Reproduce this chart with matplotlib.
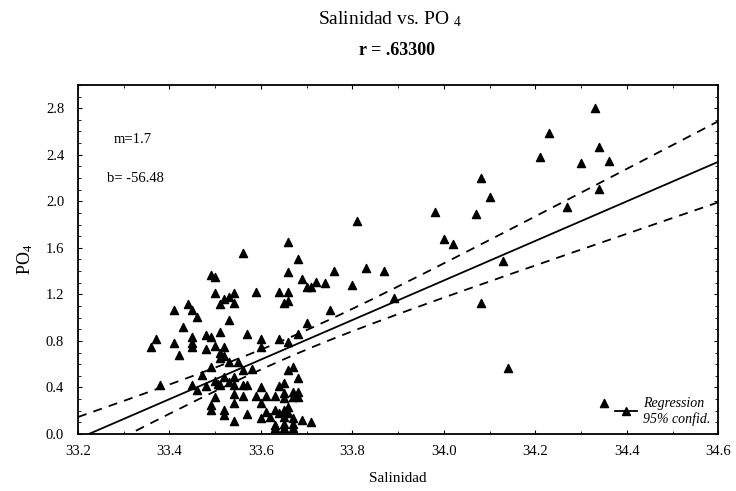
import numpy as np
import matplotlib
matplotlib.use('Agg')
import matplotlib.pyplot as plt
from matplotlib.lines import Line2D
from matplotlib.ticker import MultipleLocator, FormatStrFormatter

# data
salinidad = [
    33.56, 33.68, 33.66, 33.76, 33.69, 33.72, 33.74, 33.70, 33.71, 33.49,
    33.50, 33.50, 33.59, 33.64, 33.66, 33.65, 33.66, 33.54, 33.53, 33.52,
    33.54, 33.51, 33.41, 33.44, 33.45, 33.46, 33.53, 33.75, 33.70, 33.43,
    33.37, 33.36, 33.41, 33.42, 33.45, 33.45, 33.45, 33.48, 33.49, 33.51,
    33.48, 33.50, 33.52, 33.51, 33.52, 33.51, 33.57, 33.60, 33.60, 33.64,
    33.66, 33.68, 33.49, 33.53, 33.55, 33.56, 33.58, 33.47, 33.38, 33.45,
    33.46, 33.48, 33.50, 33.51, 33.52, 33.53, 33.54, 33.50, 33.505, 33.54,
    33.54, 33.56, 33.57, 33.56, 33.59, 33.60, 33.61, 33.63, 33.64, 33.65,
    33.66, 33.67, 33.68, 33.65, 33.65, 33.67, 33.68, 33.67, 33.68, 33.49,
    33.49, 33.52, 33.52, 33.54, 33.60, 33.61, 33.57, 33.54, 33.60, 33.62,
    33.63, 33.64, 33.65, 33.66, 33.66, 33.65, 33.67, 33.63, 33.65, 33.65,
    33.67, 33.67, 33.69, 33.71, 33.63,
    34.33, 34.23, 34.21, 34.30, 34.34, 34.36, 34.34, 34.27, 34.08, 34.10,
    34.07, 33.98, 34.00, 34.02, 33.81, 33.80, 33.83, 33.87, 33.89, 34.13,
    34.08, 34.14, 34.35, 33.66,
]
po4 = [
    1.56, 1.50, 1.39, 1.40, 1.33, 1.31, 1.30, 1.26, 1.26, 1.37,
    1.35, 1.21, 1.22, 1.22, 1.22, 1.13, 1.14, 1.21, 1.18, 1.16,
    1.13, 1.12, 1.07, 1.12, 1.07, 1.01, 0.98, 1.07, 0.95, 0.92,
    0.82, 0.75, 0.78, 0.68, 0.83, 0.78, 0.75, 0.85, 0.83, 0.88,
    0.73, 0.76, 0.75, 0.70, 0.67, 0.65, 0.86, 0.82, 0.75, 0.82,
    0.79, 0.86, 0.58, 0.62, 0.62, 0.55, 0.56, 0.51, 0.42, 0.42,
    0.38, 0.41, 0.46, 0.42, 0.49, 0.45, 0.49, 0.32, 0.43, 0.42,
    0.34, 0.42, 0.42, 0.33, 0.33, 0.40, 0.33, 0.33, 0.41, 0.44,
    0.55, 0.58, 0.48, 0.35, 0.31, 0.36, 0.36, 0.32, 0.32, 0.25,
    0.21, 0.21, 0.16, 0.27, 0.27, 0.19, 0.17, 0.11, 0.14, 0.15,
    0.21, 0.18, 0.21, 0.23, 0.18, 0.15, 0.14, 0.08, 0.09, 0.05,
    0.09, 0.05, 0.12, 0.10, 0.05,
    2.80, 2.59, 2.38, 2.33, 2.47, 2.35, 2.11, 1.95, 2.20, 2.04,
    1.89, 1.91, 1.68, 1.63, 1.83, 1.28, 1.43, 1.40, 1.17, 1.49,
    1.13, 0.57, 0.27, 1.65,
]

# regression as printed on the chart
m = 1.7
b = -56.48
r_label = 'r = .63300'
t95 = 1.98

x = np.array(salinidad)
y = np.array(po4)
n = len(x)

plt.rcParams['font.family'] = ['Liberation Serif', 'DejaVu Serif']
plt.rcParams['mathtext.fontset'] = 'custom'
plt.rcParams['mathtext.rm'] = 'Liberation Serif'
plt.rcParams['mathtext.it'] = 'Liberation Serif:italic'

fig = plt.figure(figsize=(7.36, 4.91), dpi=100)
ax = fig.add_axes([0.106, 0.116, 0.87, 0.711])

# 95% confidence band of the fitted line
xs = np.linspace(33.2, 34.6, 300)
fit = m * xs + b
resid = y - (m * x + b)
s = np.sqrt(np.sum(resid ** 2) / (n - 2))
sxx = np.sum((x - x.mean()) ** 2)
w = t95 * s * np.sqrt(1.0 / n + (xs - x.mean()) ** 2 / sxx)

ax.plot(xs, fit, color='black', lw=1.3)
ax.plot(xs, fit + w, color='black', lw=1.3, dashes=(5, 4))
ax.plot(xs, fit - w, color='black', lw=1.3, dashes=(5, 4))
ax.scatter(x, y, marker='^', s=34, color='black', zorder=3, clip_on=False)

ax.set_xlim(33.2, 34.6)
ax.set_ylim(0, 3.0)
ax.xaxis.set_major_locator(MultipleLocator(0.2))
ax.xaxis.set_minor_locator(MultipleLocator(0.1))
ax.yaxis.set_major_locator(MultipleLocator(0.4))
ax.yaxis.set_minor_locator(MultipleLocator(0.1))
ax.xaxis.set_major_formatter(FormatStrFormatter('%.1f'))
ax.yaxis.set_major_formatter(FormatStrFormatter('%.1f'))
ax.tick_params(which='both', direction='in', top=True, right=True, labelsize=10.5)
ax.tick_params(which='major', length=3)
ax.tick_params(which='minor', length=2)
ax.tick_params(axis='x', pad=8)
ax.tick_params(axis='y', pad=10)
for sp in ax.spines.values():
    sp.set_linewidth(1.3)

ax.set_xlabel('Salinidad', fontsize=11, labelpad=10)
ax.set_ylabel('PO$_4$', fontsize=13, labelpad=8)

ax.text(0.055, 0.845, 'm=1.7', transform=ax.transAxes, fontsize=10.5, va='center')
ax.text(0.045, 0.733, 'b= -56.48', transform=ax.transAxes, fontsize=10.5, va='center')

handle = Line2D([], [], color='black', lw=1.3, marker='^', markersize=6)
ax.legend([handle], ['Regression\n95% confid.'], loc='lower right', frameon=False,
          prop={'family': 'Liberation Serif', 'style': 'italic', 'size': 10},
          handlelength=1.6, handletextpad=0.4, borderaxespad=0.2)

fig.text(0.53, 0.962, 'Salinidad vs. PO $_{4}$', ha='center', va='center', fontsize=14)
fig.text(0.54, 0.897, r_label, ha='center', va='center', fontsize=13, fontweight='bold')

fig.savefig('out.png', dpi=100, facecolor='white')
